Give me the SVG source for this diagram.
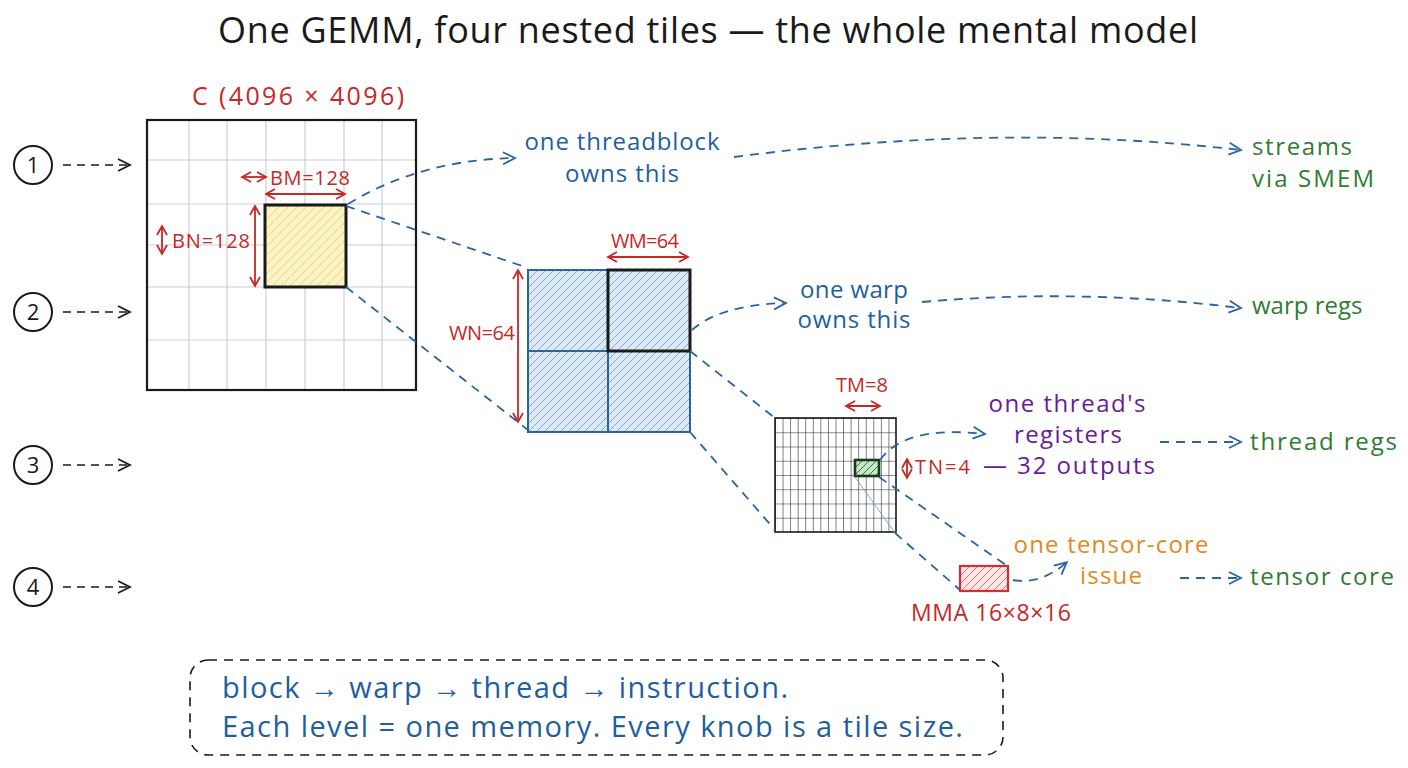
<svg xmlns="http://www.w3.org/2000/svg" width="1408" height="768" viewBox="0 0 1408 768">
<style>
text{font-family:"Open Sans","Liberation Sans",sans-serif}
.t{font-size:36px;fill:#1a1a1a}
.red{fill:#c62828}
.blue{fill:#1f5f9e}
.green{fill:#2e7d32}
.purple{fill:#6a1b9a}
.orange{fill:#e08a1e}
.lbl{font-size:24px}
.dim{font-size:20px;fill:#c62828}
.conn{fill:none;stroke:#2a64a4;stroke-width:1.8;stroke-dasharray:9 7}
.lead{fill:none;stroke:#1a1a1a;stroke-width:1.6;stroke-dasharray:8 6}
.dimline{stroke:#c62828;stroke-width:1.8;fill:none}
.gl{stroke:#c9ced8;stroke-width:1.2}
</style>
<defs>
<marker id="ab" markerUnits="userSpaceOnUse" markerWidth="16" markerHeight="16" refX="13" refY="8" orient="auto"><path d="M2 2 L14 8 L2 14" fill="none" stroke="#2a64a4" stroke-width="1.8"/></marker>
<marker id="ak" markerUnits="userSpaceOnUse" markerWidth="16" markerHeight="16" refX="13" refY="8" orient="auto"><path d="M2 2 L14 8 L2 14" fill="none" stroke="#1a1a1a" stroke-width="1.8"/></marker>
<marker id="ar" markerUnits="userSpaceOnUse" markerWidth="12" markerHeight="12" refX="10" refY="6" orient="auto-start-reverse"><path d="M1 1 L10 6 L1 11" fill="none" stroke="#c62828" stroke-width="1.8"/></marker>
<pattern id="hy" patternUnits="userSpaceOnUse" width="9" height="9"><rect width="9" height="9" fill="#fbf3c6"/><path d="M0 9 L9 0 M-2 2 L2 -2 M7 11 L11 7" stroke="#e9d77a" stroke-width="1"/></pattern>
<pattern id="hb" patternUnits="userSpaceOnUse" width="8" height="8"><rect width="8" height="8" fill="#dde9f6"/><path d="M0 8 L8 0 M-2 2 L2 -2 M6 10 L10 6" stroke="#7ea8d6" stroke-width="1"/></pattern>
<pattern id="hg" patternUnits="userSpaceOnUse" width="7" height="7"><rect width="7" height="7" fill="#c8e6c9"/><path d="M0 7 L7 0 M-2 2 L2 -2 M5 9 L9 5" stroke="#2e7d32" stroke-width="1"/></pattern>
<pattern id="hr" patternUnits="userSpaceOnUse" width="8" height="8"><rect width="8" height="8" fill="#fde6e6"/><path d="M0 8 L8 0 M-2 2 L2 -2 M6 10 L10 6" stroke="#e57373" stroke-width="1"/></pattern>
<pattern id="tg" patternUnits="userSpaceOnUse" x="775" y="418" width="7.5625" height="14.25"><path d="M0 0 H7.5625 M0 0 V14.25" stroke="#1a1a1a" stroke-width="1.1" fill="none"/></pattern>
</defs>
<rect width="1408" height="768" fill="#ffffff"/>

<text class="t" x="708" y="43" text-anchor="middle" textLength="980" lengthAdjust="spacing">One GEMM, four nested tiles — the whole mental model</text>

<g id="levels">
<g id="level1"><circle cx="33" cy="165" r="19" fill="none" stroke="#1a1a1a" stroke-width="2"/><text x="33" y="173" text-anchor="middle" font-size="22" fill="#1a1a1a">1</text></g>
<g id="level2"><circle cx="33" cy="312" r="19" fill="none" stroke="#1a1a1a" stroke-width="2"/><text x="33" y="320" text-anchor="middle" font-size="22" fill="#1a1a1a">2</text></g>
<g id="level3"><circle cx="33" cy="465" r="19" fill="none" stroke="#1a1a1a" stroke-width="2"/><text x="33" y="473" text-anchor="middle" font-size="22" fill="#1a1a1a">3</text></g>
<g id="level4"><circle cx="33" cy="587" r="19" fill="none" stroke="#1a1a1a" stroke-width="2"/><text x="33" y="595" text-anchor="middle" font-size="22" fill="#1a1a1a">4</text></g>
</g>

<g id="matrixC">
<text class="red" x="298" y="105" text-anchor="middle" font-size="25" textLength="212" lengthAdjust="spacing">C (4096 × 4096)</text>
<rect x="147" y="120" width="269" height="270" fill="#ffffff"/>
<g class="gl">
<line x1="189" y1="121" x2="189" y2="389"/><line x1="227" y1="121" x2="227" y2="389"/><line x1="266" y1="121" x2="266" y2="389"/><line x1="305" y1="121" x2="305" y2="389"/><line x1="344" y1="121" x2="344" y2="389"/><line x1="382" y1="121" x2="382" y2="389"/>
<line x1="148" y1="160" x2="415" y2="160"/><line x1="148" y1="204" x2="415" y2="204"/><line x1="148" y1="245" x2="415" y2="245"/><line x1="148" y1="287" x2="415" y2="287"/><line x1="148" y1="340" x2="415" y2="340"/>
</g>
<rect x="147" y="120" width="269" height="270" fill="none" stroke="#1a1a1a" stroke-width="2.2"/>
</g>

<g id="blockTile">
<rect x="265" y="205" width="81" height="82" fill="url(#hy)" stroke="#1a1a1a" stroke-width="3"/>
<line class="dimline" x1="242" y1="177" x2="266" y2="177" marker-start="url(#ar)" marker-end="url(#ar)"/>
<text class="dim" x="270" y="185" textLength="80" lengthAdjust="spacing">BM=128</text>
<line class="dimline" x1="266" y1="194" x2="345" y2="194" marker-start="url(#ar)" marker-end="url(#ar)"/>
<line class="dimline" x1="162" y1="226" x2="162" y2="254" marker-start="url(#ar)" marker-end="url(#ar)"/>
<text class="dim" x="172" y="248" textLength="78" lengthAdjust="spacing">BN=128</text>
<line class="dimline" x1="255" y1="206" x2="255" y2="286" marker-start="url(#ar)" marker-end="url(#ar)"/>
</g>

<g id="warpTile">
<rect x="528" y="270" width="162" height="162" fill="url(#hb)" stroke="#2a64a4" stroke-width="2"/>
<line x1="608" y1="270" x2="608" y2="432" stroke="#2a64a4" stroke-width="2"/>
<line x1="528" y1="351" x2="690" y2="351" stroke="#2a64a4" stroke-width="2"/>
<rect x="608" y="270" width="82" height="81" fill="none" stroke="#1a1a1a" stroke-width="3"/>
<text class="dim" x="645" y="248" text-anchor="middle" textLength="68" lengthAdjust="spacing">WM=64</text>
<line class="dimline" x1="608" y1="257" x2="688" y2="257" marker-start="url(#ar)" marker-end="url(#ar)"/>
<text class="dim" x="482" y="340" text-anchor="middle" textLength="66" lengthAdjust="spacing">WN=64</text>
<line class="dimline" x1="518" y1="270" x2="518" y2="422" marker-start="url(#ar)" marker-end="url(#ar)"/>
</g>

<g id="threadTile">
<rect x="775" y="418" width="121" height="114" fill="url(#tg)"/>
<rect x="775" y="418" width="121" height="114" fill="none" stroke="#1a1a1a" stroke-width="1.6"/>
<rect x="855" y="460" width="24" height="16" fill="url(#hg)" stroke="#1a3a1a" stroke-width="2.6"/>
<text class="dim" x="862" y="392" text-anchor="middle">TM=8</text>
<line class="dimline" x1="846" y1="406" x2="880" y2="406" marker-start="url(#ar)" marker-end="url(#ar)"/>
<line class="dimline" x1="907" y1="459" x2="907" y2="478" marker-start="url(#ar)" marker-end="url(#ar)"/>
<text class="dim" x="915" y="474" textLength="55" lengthAdjust="spacing">TN=4</text>
</g>

<g id="mmaTile">
<rect x="960" y="566" width="48" height="25" fill="url(#hr)" stroke="#d32f2f" stroke-width="2.2"/>
<text class="red" x="991" y="621" text-anchor="middle" font-size="23" textLength="160" lengthAdjust="spacing">MMA 16×8×16</text>
</g>

<g id="labels">
<text class="blue lbl" x="622" y="150" text-anchor="middle" textLength="195" lengthAdjust="spacing">one threadblock</text>
<text class="blue lbl" x="622" y="182" text-anchor="middle" textLength="114" lengthAdjust="spacing">owns this</text>
<text class="blue lbl" x="854" y="298" text-anchor="middle" textLength="108" lengthAdjust="spacing">one warp</text>
<text class="blue lbl" x="854" y="328" text-anchor="middle" textLength="113" lengthAdjust="spacing">owns this</text>
<text class="purple lbl" x="1067" y="412" text-anchor="middle" textLength="157" lengthAdjust="spacing">one thread's</text>
<text class="purple lbl" x="1068" y="443" text-anchor="middle" textLength="108" lengthAdjust="spacing">registers</text>
<text class="purple lbl" x="983" y="474" textLength="172" lengthAdjust="spacing">— 32 outputs</text>
<text class="orange lbl" x="1111" y="553" text-anchor="middle" textLength="195" lengthAdjust="spacing">one tensor-core</text>
<text class="orange lbl" x="1111" y="584" text-anchor="middle" textLength="62" lengthAdjust="spacing">issue</text>
<text class="green lbl" x="1252" y="155" textLength="100" lengthAdjust="spacing">streams</text>
<text class="green lbl" x="1252" y="187" textLength="122" lengthAdjust="spacing">via SMEM</text>
<text class="green lbl" x="1252" y="314">warp regs</text>
<text class="green lbl" x="1250" y="450" textLength="147" lengthAdjust="spacing">thread regs</text>
<text class="green lbl" x="1250" y="585" textLength="144" lengthAdjust="spacing">tensor core</text>
</g>

<g id="connectors">
<line class="lead" x1="63" y1="165" x2="129" y2="165" marker-end="url(#ak)"/>
<line class="lead" x1="63" y1="312" x2="129" y2="312" marker-end="url(#ak)"/>
<line class="lead" x1="63" y1="465" x2="129" y2="465" marker-end="url(#ak)"/>
<line class="lead" x1="63" y1="587" x2="129" y2="587" marker-end="url(#ak)"/>
<path class="conn" d="M348 204 Q420 160 514 158" marker-end="url(#ab)"/>
<line class="conn" x1="346" y1="206" x2="528" y2="268"/>
<line class="conn" x1="346" y1="287" x2="528" y2="430"/>
<path class="conn" d="M734 157 Q1000 122 1240 150" marker-end="url(#ab)"/>
<path class="conn" d="M692 330 Q720 305 785 303" marker-end="url(#ab)"/>
<path class="conn" d="M922 302 Q1080 288 1240 308" marker-end="url(#ab)"/>
<line class="conn" x1="690" y1="351" x2="775" y2="418"/>
<line class="conn" x1="690" y1="432" x2="775" y2="530"/>
<path class="conn" d="M880 460 Q905 425 984 434" marker-end="url(#ab)"/>
<line class="conn" x1="1160" y1="442" x2="1240" y2="442" marker-end="url(#ab)"/>
<line class="conn" x1="879" y1="477" x2="1006" y2="565"/>
<line x1="855" y1="477" x2="895" y2="533" stroke="#7ea8d6" stroke-width="1"/>
<line class="conn" x1="895" y1="533" x2="960" y2="590"/>
<path class="conn" d="M1013 580 Q1040 585 1066 563" marker-end="url(#ab)"/>
<line class="conn" x1="1180" y1="578" x2="1240" y2="578" marker-end="url(#ab)"/>
</g>

<g id="summary">
<rect x="190" y="660" width="813" height="95" rx="18" fill="none" stroke="#1a1a1a" stroke-width="1.6" stroke-dasharray="9 7"/>
<text class="blue" x="222" y="698" font-size="29" textLength="566" lengthAdjust="spacing">block → warp → thread → instruction.</text>
<text class="blue" x="222" y="737" font-size="29" textLength="741" lengthAdjust="spacing">Each level = one memory. Every knob is a tile size.</text>
</g>
</svg>
